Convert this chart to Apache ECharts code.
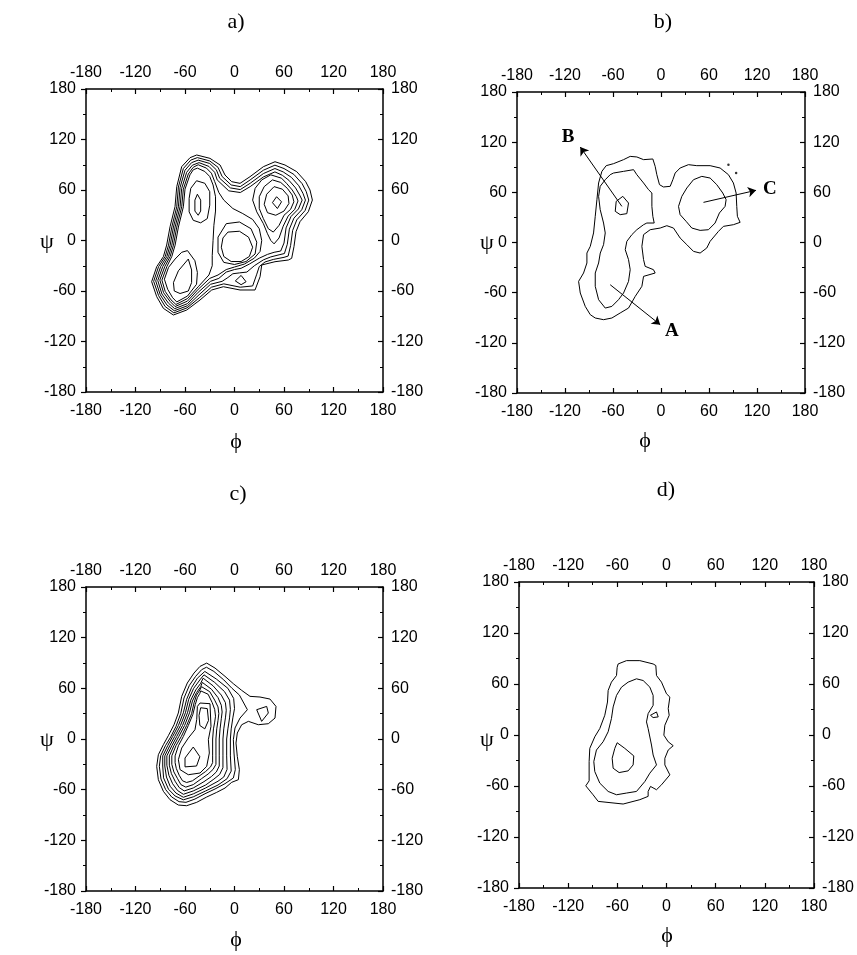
<!DOCTYPE html>
<html><head><meta charset="utf-8">
<script src="https://cdn.jsdelivr.net/npm/echarts/dist/echarts.min.js"></script>
<style>html,body{margin:0;padding:0;background:#fff}#c{width:857px;height:955px}</style>
</head><body><div id="c"></div>
<script>
const TICKS = [-180,-120,-60,0,60,120,180];
const PANEL_TITLES = ['a)','b)','c)','d)'];

// ---- panel a contours (phi, psi) ----
const a_c1 = [[-45.8,101.6],[-29.7,97.6],[-17.5,89.7],[-11.5,77.8],[-3.4,69.9],[6.7,67.9],[18.8,75.8],[35,87.7],[49.1,93.6],[61.2,89.7],[75.4,81.8],[86.3,69.9],[91.5,60],[94.4,48.1],[89.5,34.2],[79.4,22.4],[74.6,10.5],[72.1,-7.3],[69.3,-21.2],[65.3,-23.2],[49.1,-25.2],[33,-29.1],[31,-43],[24.9,-58.8],[6.7,-58.8],[-13.5,-54.9],[-27.6,-58.8],[-41.8,-70.7],[-57.9,-82.6],[-74.1,-88.5],[-86.2,-80.6],[-94.3,-66.7],[-100.4,-48.9],[-94.3,-31.1],[-86.2,-19.2],[-82.2,-5.4],[-78.1,16.4],[-72.1,40.2],[-70,64],[-64,87.7],[-53.9,98.4]];
const a_c2 = [[-45,98.5],[-30,94.5],[-20,87],[-15,76],[-4,66],[7,64],[19,72],[35,83.5],[49,89.5],[60,85.5],[72,78.5],[82,67.5],[87,58],[90,48],[85.5,35.5],[75.5,24.5],[70.5,12],[68,-6],[65,-18.5],[60,-20],[47,-22.5],[37,-25.5],[30,-31],[27,-40],[22,-54],[7,-55.5],[-13,-51.5],[-28,-55.5],[-42,-67.5],[-57.5,-80],[-73.5,-86],[-84,-78.5],[-92,-65.5],[-98,-48.5],[-92,-31],[-84,-19],[-80,-5.5],[-76,16],[-70,40],[-68,63.5],[-62,85.5],[-53,95.5]];
const a_c3 = [[-44,95.5],[-30,91.5],[-22,84],[-18,74],[-5,62.5],[7,60.5],[19,68],[35,79.5],[49,85.5],[59,81.5],[69,75],[78,65],[83,56],[86,48],[81.5,36.5],[72,26.5],[66.5,13.5],[64,-4.5],[60.5,-15.5],[54,-17],[44,-19.5],[35,-23],[24,-30],[15,-37.5],[6,-38.5],[-2,-39.5],[-8,-44],[-15,-48.5],[-29,-52],[-43,-64.5],[-57,-77.5],[-73,-83.5],[-82,-76.5],[-90,-64.5],[-95.5,-48],[-89.5,-31],[-82,-19],[-78,-5.5],[-74,16],[-68,40],[-66,63],[-60,83.5],[-52,92.5]];
const a_c4 = [[-43,92.5],[-31,88],[-24,81],[-21,72],[-7,59],[7,57],[19,64],[35,75.5],[49,81.5],[58,77.5],[66,71.5],[74,62.5],[79,54],[82,48],[77.5,37.5],[68.5,28.5],[62.5,15],[60,-3],[56,-12.5],[48,-14],[40,-16.5],[30,-21],[18,-28],[8,-33],[0,-34.5],[-10,-37.5],[-19,-45],[-29,-48.5],[-44,-61.5],[-57,-75],[-72.5,-81],[-80,-74.5],[-88,-63.5],[-93,-47.5],[-87,-31],[-80,-19],[-76,-5.5],[-72,16],[-66,40],[-64,62],[-58,81],[-51,89.5]];
const a_c5 = [[-44,90],[-34,86],[-28,80],[-24,70],[-19,57],[-13,48],[-2,38],[10,32],[22,25],[30,14],[33,0],[31,-13],[24,-21],[12,-28],[0,-31.5],[-10,-34.5],[-20,-41],[-30,-45],[-44,-58],[-57,-72],[-72,-78.5],[-78,-72.5],[-86,-62],[-90.5,-47],[-84.5,-31],[-78,-19],[-74,-5.5],[-70,16],[-64,40],[-62,61],[-56,79],[-50,87]];
const a_c6 = [[-45,86],[-36,82],[-30,76],[-26,66],[-23,52],[-23,35],[-25,18],[-26,0],[-27,-18],[-27,-30],[-31,-41],[-44,-55],[-57,-69],[-71,-76],[-77,-70.5],[-84,-60.5],[-88,-47],[-82,-31],[-76,-19],[-72,-5.5],[-68,16],[-62,40],[-60,61],[-54,78],[-50,84]];
const a_tl7 = [[-46,71],[-36,68],[-30,58],[-30,42],[-33,26],[-41,21],[-50,24],[-55,34],[-55,50],[-53,62]];
const a_tl8 = [[-45,55],[-41,48],[-41,35],[-44,30],[-48,35],[-48,48]];
const a_bl7 = [[-57,-12],[-48,-24],[-45,-38],[-46,-52],[-57,-66],[-70,-73],[-75,-68],[-81,-58],[-85,-46],[-80,-32],[-72,-22],[-64,-14]];
const a_bl8 = [[-56,-22],[-52,-35],[-52,-50],[-56,-60],[-66,-63],[-73,-60],[-74,-50],[-68,-36]];
const a_m6 = [[-10,20],[6,22],[20,14],[27,-2],[25,-16],[14,-25],[0,-28.5],[-13,-26],[-20,-14],[-20,4]];
const a_m7 = [[-8,10],[6,11],[17,4],[22,-8],[18,-19],[8,-25],[-4,-25],[-13,-19],[-16,-8],[-14,3]];
const a_r5 = [[44,78],[57,74],[63,68],[70,60],[75,52],[77,47],[73,37],[65,29],[59,17],[54,3],[48,-4],[44,0],[40,8],[35,20],[27,34],[22,48],[25,62],[33,72]];
const a_r6 = [[46,72],[56,69],[64,62],[70,54],[72,46],[68,37],[60,30],[54,18],[47,10],[41,14],[35,26],[30,38],[30,52],[36,64]];
const a_r7 = [[48,64],[58,61],[65,53],[66,44],[60,35],[50,30],[40,33],[36,43],[39,55]];
const a_r8 = [[51,52],[57,46],[52,38],[46,45]];
const a_isl = [[8,-41.5],[14,-49],[8,-52.5],[1,-48]];

// ---- panel b contours ----
const b_outer = [[-68.5,91.9],[-59.3,94.3],[-46.8,99.1],[-38.5,103],[-30.2,102.3],[-21.8,99.1],[-10.2,99.9],[-7.3,91.1],[-5.2,81.1],[-1.9,69.2],[3.1,66.4],[11.5,67.2],[14.8,75.1],[17.7,83.1],[23.9,89.1],[34.3,93.1],[44.7,91.9],[61.4,91.9],[73.9,89.1],[84.3,81.1],[90.5,71.2],[93.9,59.2],[94.7,43.2],[95.5,31.3],[98.9,24.1],[90.5,21.3],[78,19.3],[71.8,13.3],[61.4,1.4],[57.2,-6.6],[48.9,-12.6],[40.6,-10.6],[32.3,-2.6],[23.9,5.4],[15.6,17.3],[7.3,20.1],[-1,17.3],[-13.5,15.3],[-21.8,9.4],[-23.9,-4.6],[-21.8,-20.5],[-19.8,-28.5],[-9.4,-32.5],[-7.3,-36.5],[-21.8,-40.5],[-23.9,-52.4],[-32.2,-64.4],[-40.6,-78.4],[-51,-84.3],[-61.4,-90.3],[-71.8,-92.3],[-82.2,-90.3],[-88.4,-86.3],[-94.7,-76.4],[-100.9,-60.4],[-103,-46.5],[-96.8,-36.5],[-92.6,-24.5],[-92.6,-12.6],[-88.4,-4.6],[-84.3,11.4],[-82.2,31.3],[-80.1,51.2],[-78,71.2],[-73.9,85.1]];
const b_inner = [[-59.3,83.1],[-46.8,85.1],[-34.3,87.1],[-30.2,81.1],[-21.8,71.2],[-15.6,63.2],[-11.4,59.2],[-11.4,43.2],[-10.2,31.3],[-8.5,23.3],[-17.7,23.3],[-21.8,21.3],[-30.2,15.3],[-36.4,9.4],[-42.7,1.4],[-44.7,-8.6],[-40.6,-20.5],[-38.5,-32.5],[-40.6,-46.5],[-46.8,-60.4],[-53.1,-68.4],[-61.4,-76.4],[-69.7,-78.4],[-78,-68.4],[-82.2,-52.4],[-82.2,-36.5],[-78,-24.5],[-75.9,-12.6],[-71.8,-2.6],[-69.7,11.4],[-71.8,23.3],[-76,39.3],[-78,55.2],[-76,67.2],[-69.7,75.1],[-63.5,81.1]];
const b_B = [[-47.7,55.2],[-40.6,47.2],[-42.7,34.5],[-51,33.3],[-57.2,37.3],[-56,49.2]];
const b_C = [[32.3,65.2],[40.6,75.1],[51,79.1],[61.4,77.1],[69.7,69.2],[77.2,59.2],[81.4,51.2],[80.1,43.2],[73,35.3],[67.6,23.3],[59.3,15.3],[48.9,14.5],[38.5,17.3],[31.4,25.3],[23.9,33.3],[21.9,43.2],[26,55.2]];
const b_dots = [[84.3,93.1],[93.9,83.1]];
const b_arrows = [[[-63.5,-50.5],[-1,-98.3]],[[-48.9,43.2],[-100.9,114.2]],[[53.1,48],[118.8,62.4]]];
const b_labels = [['A',[13.5,-106]],['B',[-116,126]],['C',[136,64]]];

// ---- panel c contours ----
const c_c1 = [[-41.8,86],[-33.7,89.9],[-23.6,84],[-11.5,74.2],[-1.4,65.5],[8.7,57.6],[18.8,50.5],[30.9,49.7],[43,47.3],[50.3,38.6],[49.1,24.8],[41,18.1],[28.9,16.9],[16.8,20.9],[8.7,16.9],[3.4,7.1],[1.8,-4.8],[3.4,-20.6],[5.9,-36.3],[4.7,-48.2],[-3.4,-51.3],[-11.5,-58.1],[-21.6,-63.2],[-33.7,-68.7],[-45.8,-75],[-58,-79],[-68.1,-78.2],[-78.2,-71.9],[-86.2,-62],[-92.3,-48.2],[-94.3,-32.4],[-92.3,-18.6],[-86.2,-6.7],[-80.2,3.9],[-73.3,16.9],[-68.1,30.8],[-64,50.5],[-57.2,66.3],[-49.1,78.1]];
const c_c2 = [[-39.8,82.1],[-34,85],[-25,80],[-13,70],[-3,60],[6,52],[15.6,34.7],[6.7,24.8],[0.6,13],[-1.4,-0.8],[-0.6,-16.6],[1,-36.3],[-1.4,-46.2],[-11.5,-52.9],[-23.6,-59.2],[-35.7,-64.8],[-47.9,-71.1],[-58.8,-75],[-67.2,-74.2],[-76.1,-68.7],[-83.4,-60],[-89.1,-47.4],[-91.1,-32.4],[-89.5,-19.8],[-83.8,-8],[-77.4,2.3],[-70.9,15],[-65.2,30],[-61.2,48.5],[-54.7,63.5],[-47.1,74.2]];
const c_c3 = [[-45,72],[-36,80],[-22,71],[-8,60],[-1,48],[0,36],[-2,25],[-4,12],[-5,0],[-5,-20],[-4,-38],[-9,-47],[-20,-54.5],[-35,-61.5],[-50,-68.5],[-62,-72],[-72,-67.5],[-80,-59.5],[-86,-46],[-87,-32],[-87,-20],[-81,-8],[-75,3],[-68,16],[-62,31],[-58,47],[-52,61]];
const c_c4 = [[-42,70],[-37,76],[-24,67],[-12,56],[-6,46],[-5,35],[-6,25],[-8,12],[-9.5,0],[-9.5,-20],[-9,-36],[-13,-45],[-20,-50],[-35,-58],[-50,-65],[-62,-69],[-71,-64],[-78,-56],[-82.5,-45],[-84.5,-32],[-84.5,-20],[-78.5,-8],[-72.5,3],[-65.5,16],[-59.5,31],[-55.5,47],[-49.5,60]];
const c_c5 = [[-41,66],[-38,72],[-26,63],[-16,52],[-11,43],[-10,34],[-11,25],[-13,12],[-14,0],[-14,-20],[-14,-34],[-18,-42],[-25,-47.5],[-35,-54.5],[-50,-61.5],[-62,-65.5],[-69,-61],[-75,-53],[-79.5,-43],[-82,-31],[-82,-20],[-76,-8],[-70,3],[-63,16],[-57,31],[-53,46],[-47,58]];
const c_c6 = [[-41,62],[-39,67],[-28,59],[-20,49],[-16,40],[-15,32],[-16,24],[-17.5,12],[-18.5,0],[-18.5,-20],[-18.5,-32],[-22,-39],[-28,-44.5],[-37,-50.5],[-50,-58],[-61,-61.5],[-67,-57.5],[-72,-50],[-76.5,-41],[-79,-31],[-79,-20],[-73.5,-8],[-67.5,3],[-60.5,16],[-54.5,31],[-51,45],[-46,55]];
const c_c7 = [[-42,58],[-40,62],[-30,56],[-24,46],[-20,38],[-19,30],[-20,22],[-21.5,12],[-22.5,0],[-22.5,-20],[-22.5,-30],[-26,-36],[-32,-41.5],[-40,-47],[-50,-54],[-59,-57],[-65,-54],[-69,-47],[-73.5,-39],[-76,-30],[-76,-20],[-71,-8],[-64.5,3],[-58,16],[-52,30],[-49,43],[-46,52]];
const c_c8 = [[-42,54],[-41,57],[-32,53],[-27,43],[-24,35],[-23,27],[-24,20],[-25.5,12],[-26.5,0],[-26.5,-20],[-26.5,-28],[-29,-33],[-35,-38.5],[-43,-44],[-51,-49.5],[-58,-51.5],[-63,-49.5],[-67,-43],[-70.5,-35],[-72,-28],[-72,-20],[-68,-8],[-62,3],[-56,16],[-50.5,29],[-47.5,41],[-45,49]];
const c_c9 = [[-41.8,42.6],[-29.7,41.8],[-28.5,15],[-31.7,-0.8],[-30.5,-16.6],[-33.7,-32.4],[-41.8,-40.3],[-56,-42.3],[-66,-36.3],[-68,-24.5],[-64,-10.7],[-56,1.1],[-47.9,11],[-45.8,22.9],[-45,38.6]];
const c_up = [[-41,37],[-33,36],[-31.5,22],[-36,12],[-42,16],[-43,28]];
const c_in = [[-50,-9.5],[-42,-21],[-46,-32],[-60,-33],[-60,-22.5]];
const c_tri = [[26.9,34.7],[39,38.6],[41,30.8],[32.9,20.9]];

// ---- panel d contours ----
const d_outer = [[-59,83.6],[-48.8,87.5],[-32.5,87.5],[-16.3,83.6],[-13,81.7],[-12.2,70],[-6.1,62.2],[0,48.5],[4.1,44.6],[2.1,31],[3.3,23.2],[-2,11.5],[-3.2,-0.2],[2.1,-8],[8.2,-12.6],[2.1,-17.7],[-2,-27.4],[-2,-35.2],[4.1,-46.9],[-6.1,-58.6],[-12.2,-64.4],[-19.5,-60.5],[-22.4,-66.4],[-22.4,-72.2],[-32.5,-76.1],[-52.9,-81.2],[-83.4,-78.1],[-89.6,-70.3],[-98.5,-59.8],[-94.4,-53.9],[-94.4,-31.3],[-93.6,-15.7],[-87.5,-2.1],[-81.4,7.6],[-75.3,23.2],[-72,38.8],[-71.2,52.4],[-67.2,62.2],[-61,70],[-60.2,79.7]];
const d_mid = [[-36.6,66.1],[-28.5,64.1],[-20.3,56.3],[-16.3,46.6],[-16.3,34.9],[-22.4,25.2],[-24.4,15.4],[-22.4,7.6],[-18.3,-11.8],[-16.3,-23.5],[-12.2,-35.2],[-20.3,-44.9],[-26.4,-54.7],[-36.6,-66.4],[-48.8,-68.3],[-61,-70.3],[-71.2,-66.4],[-81.4,-56.6],[-87.5,-43],[-88.7,-31.3],[-85.5,-17.7],[-77.3,-7.9],[-71.2,3.8],[-67.2,19.3],[-65.1,33],[-61,46.6],[-54.9,56.3],[-46.8,62.2]];
const d_in = [[-60.2,-9.1],[-50.9,-15.7],[-39.9,-24.6],[-40.7,-35.2],[-46.8,-42.2],[-57.8,-44.2],[-65.1,-39.1],[-66.3,-27.4],[-63.1,-15.7]];
const d_tri = [[-19.5,23.2],[-12.2,27.1],[-10.1,21.3],[-16.3,20.5]];

const PANEL_CONTOURS = [
  [a_c1,a_c2,a_c3,a_c4,a_c5,a_c6,a_tl7,a_tl8,a_bl7,a_bl8,a_m6,a_m7,a_r5,a_r6,a_r7,a_r8,a_isl],
  [b_outer,b_inner,b_B,b_C],
  [c_c1,c_c2,c_c3,c_c4,c_c5,c_c6,c_c7,c_c8,c_c9,c_up,c_in,c_tri],
  [d_outer,d_mid,d_in,d_tri]
];

// layout (pixels)
const GRIDS = [
  {left:86, top:89, width:297, height:303},
  {left:517, top:92, width:288, height:301},
  {left:86, top:587, width:297, height:304},
  {left:519, top:582, width:295, height:306}
];
const TITLE_POS = [[236,22],[663,22],[238,494],[666,490]];
const PSI_POS = [[47,242],[487,243],[47,740],[487,740]];
const PHI_POS = [[236,442],[645,441],[236,940],[667,936]];

const labelFont = 'Liberation Sans, Arial, sans-serif';
const serif = 'Liberation Serif, Times New Roman, serif';

function axis(gi, pos, inside, margin){
  return {
    type:'value', gridIndex:gi, position:pos,
    min:TICKS[0], max:TICKS[TICKS.length-1], interval:TICKS[1]-TICKS[0],
    axisLine:{show:true, onZero:false, lineStyle:{color:'#000', width:1.5}},
    axisTick:{show:true, inside:inside, length:5, lineStyle:{color:'#000', width:1.2}},
    minorTick:{show:true, splitNumber:2, length:3, lineStyle:{color:'#000', width:1}},
    splitLine:{show:false},
    axisLabel:{show:true, margin:margin, color:'#000', fontSize:16, fontFamily:labelFont,
      showMinLabel:true, showMaxLabel:true, formatter:(v)=>String(v)}
  };
}

const xAxes=[], yAxes=[], series=[], graphics=[];
GRIDS.forEach((g,i)=>{
  xAxes.push(axis(i,'bottom',true,11));
  xAxes.push(axis(i,'top',true,8));
  yAxes.push(axis(i,'left',false,10));
  yAxes.push(axis(i,'right',true,8));
  PANEL_CONTOURS[i].forEach(pts=>{
    series.push({type:'line', xAxisIndex:2*i, yAxisIndex:2*i, data:pts.concat([pts[0]]),
      symbol:'none', smooth:false, silent:true, animation:false,
      lineStyle:{color:'#000', width:1}});
  });
  graphics.push({type:'text', x:TITLE_POS[i][0], y:TITLE_POS[i][1],
    style:{text:PANEL_TITLES[i], font:'22px '+serif, fill:'#000', textAlign:'center', textVerticalAlign:'middle'}});
  graphics.push({type:'text', x:PSI_POS[i][0], y:PSI_POS[i][1],
    style:{text:'ψ', font:'22px '+serif, fill:'#000', textAlign:'center', textVerticalAlign:'middle'}});
  graphics.push({type:'text', x:PHI_POS[i][0], y:PHI_POS[i][1],
    style:{text:'ϕ', font:'22px '+serif, fill:'#000', textAlign:'center', textVerticalAlign:'middle'}});
});

// panel b annotations
series.push({type:'lines', coordinateSystem:'cartesian2d', xAxisIndex:2, yAxisIndex:2,
  symbol:['none','arrow'], symbolSize:8, silent:true, animation:false,
  lineStyle:{color:'#000', width:1, opacity:1},
  data:b_arrows.map(c=>({coords:c}))});
series.push({type:'scatter', xAxisIndex:2, yAxisIndex:2, symbolSize:2.5, silent:true,
  itemStyle:{color:'#000'}, data:b_dots});
series.push({type:'scatter', xAxisIndex:2, yAxisIndex:2, symbolSize:0, silent:true,
  itemStyle:{color:'#000'},
  label:{show:true, position:'inside', formatter:'{b}', color:'#000', opacity:1, fontSize:19, fontWeight:'bold', fontFamily:serif},
  data:b_labels.map(l=>({name:l[0], value:l[1]}))});

const chart = echarts.init(document.getElementById('c'), null, {renderer:'canvas'});
chart.setOption({
  animation:false,
  backgroundColor:'#fff',
  grid:GRIDS.map(g=>Object.assign({containLabel:false}, g)),
  xAxis:xAxes, yAxis:yAxes, series:series, graphic:graphics
});
</script></body></html>
